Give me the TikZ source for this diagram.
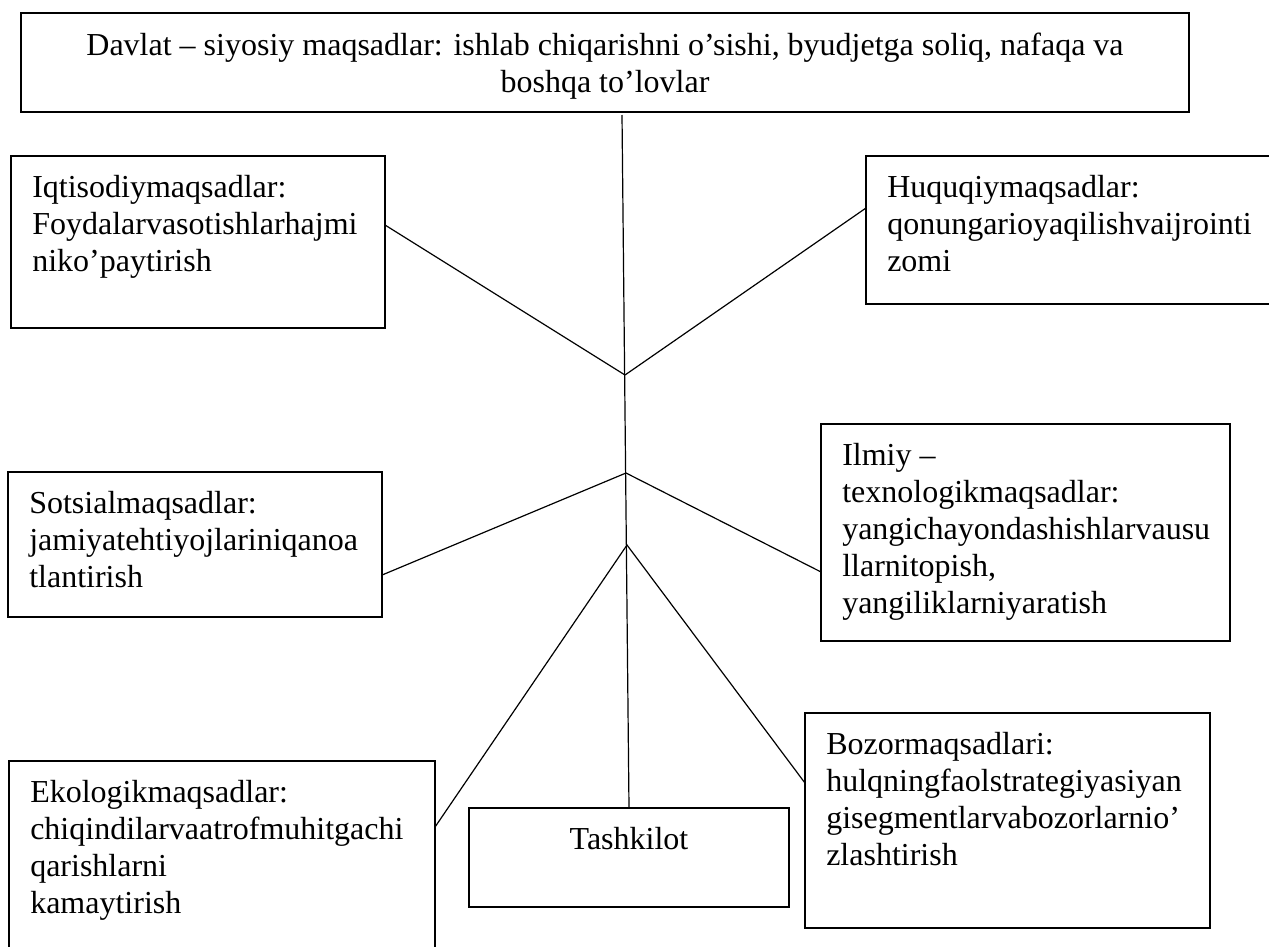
\documentclass[tikz,border=0pt]{standalone}
\usepackage{fontspec}
\setmainfont{Liberation Serif}
\begin{document}
\begin{tikzpicture}[x=0.75pt,y=-0.75pt,
  box/.style={draw=black, line width=1.1pt, inner sep=0pt, outer sep=0pt, anchor=north west},
  txt/.style={inner sep=0pt, anchor=north west, align=left, font=\fontsize{24}{27.75}\selectfont},
  conn/.style={line width=0.9pt}]
\useasboundingbox (0,0) rectangle (1269,946);
\fill[white] (0,0) rectangle (1269,946);
\clip (0,0) rectangle (1269,946);

% boxes
\node[box, minimum width=876pt, minimum height=74.25pt] (top) at (21,13) {};
\node[box, minimum width=280.5pt, minimum height=129pt] (iq) at (11,156) {};
\node[box, minimum width=318pt, minimum height=111pt] (huq) at (866,156) {};
\node[box, minimum width=280.5pt, minimum height=108.75pt] (sots) at (8,472) {};
\node[box, minimum width=306.75pt, minimum height=162.75pt] (ilm) at (821,424) {};
\node[box, minimum width=319.5pt, minimum height=149.25pt] (eko) at (9,761) {};
\node[box, minimum width=240pt, minimum height=74.25pt] (tash) at (469,808) {};
\node[box, minimum width=303.75pt, minimum height=161.25pt] (boz) at (805,713) {};

% texts
\node[txt, anchor=north, align=center] (ttop) at ([shift={(0,20)}]top.north) {Davlat – siyosiy maqsadlar: ishlab chiqarishni o’sishi, byudjetga soliq, nafaqa va\\boshqa to’lovlar};
\node[txt] (tiq) at ([shift={(21,19)}]iq.north west) {Iqtisodiymaqsadlar:\\Foydalarvasotishlarhajmi\\niko’paytirish};
\node[txt] (thuq) at ([shift={(21,19)}]huq.north west) {Huquqiymaqsadlar:\\qonungarioyaqilishvaijrointi\\zomi};
\node[txt] (tsots) at ([shift={(21,19)}]sots.north west) {Sotsialmaqsadlar:\\jamiyatehtiyojlariniqanoa\\tlantirish};
\node[txt] (tilm) at ([shift={(21,19)}]ilm.north west) {Ilmiy –\\texnologikmaqsadlar:\\yangichayondashishlarvausu\\llarnitopish,\\yangiliklarniyaratish};
\node[txt] (teko) at ([shift={(21,19)}]eko.north west) {Ekologikmaqsadlar:\\chiqindilarvaatrofmuhitgachi\\qarishlarni\\kamaytirish};
\node[txt, anchor=north] (ttash) at ([shift={(0,19)}]tash.north) {Tashkilot};
\node[txt] (tboz) at ([shift={(21,19)}]boz.north west) {Bozormaqsadlari:\\hulqningfaolstrategiyasiyan\\gisegmentlarvabozorlarnio’\\zlashtirish};

% junctions
\coordinate (vtop) at (622,115);
\coordinate (j1) at (625,375);
\coordinate (j2) at (626,473);
\coordinate (j3) at (627,545);

% connectors
\draw[conn] (vtop) -- (tash.north);
\draw[conn] ([yshift=12.75pt]iq.east) -- (j1) -- ([yshift=16.5pt]huq.west);
\draw[conn] ([yshift=-22.9pt]sots.east) -- (j2) -- ([yshift=-29.6pt]ilm.west);
\draw[conn] ([yshift=25.1pt]eko.east) -- (j3) -- ([yshift=28.1pt]boz.west);
\end{tikzpicture}
\end{document}
